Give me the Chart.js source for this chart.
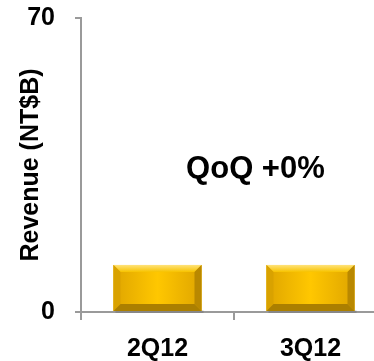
<!DOCTYPE html>
<html>
<head>
<meta charset="utf-8">
<script src="https://cdn.jsdelivr.net/npm/chart.js@4/dist/chart.umd.min.js"></script>
<style>
  html, body { margin: 0; padding: 0; background: #fff; overflow: hidden; }
  #wrap { width: 374px; height: 361px; overflow: hidden; }
</style>
</head>
<body>
<div id="wrap"><canvas id="rev" width="400" height="361"></canvas></div>
<script>
// Quarterly revenue, NT$ billions
const quarters = ['2Q12', '3Q12'];
const revenue = [11.2, 11.2];
const yTicks = [0, 70];
const growthNote = 'QoQ +0%';

const FONT = 'Arial, "Liberation Sans", Helvetica, sans-serif';
const AXIS = '#9a9a9a';

// golden bevelled look drawn over each bar
const bevelPlugin = {
    id: 'bevel',
    afterDatasetsDraw(chart) {
        const ctx = chart.ctx;
        chart.getDatasetMeta(0).data.forEach(bar => {
            const l = bar.x - bar.width / 2, r = bar.x + bar.width / 2;
            const t = bar.y, b = bar.base;
            const e = 7;
            ctx.save();
            // soft shadow under the bar
            ctx.fillStyle = 'rgba(0,0,0,0.12)';
            ctx.fillRect(l + 2, b - 1, r - l, 3);
            // body
            let g = ctx.createLinearGradient(l, 0, r, 0);
            g.addColorStop(0, '#dfa500');
            g.addColorStop(0.5, '#ffc700');
            g.addColorStop(1, '#dfa500');
            ctx.fillStyle = g;
            ctx.fillRect(l, t, r - l, b - t);
            // top bevel
            g = ctx.createLinearGradient(0, t, 0, t + e);
            g.addColorStop(0, '#ffe27a');
            g.addColorStop(1, '#f7c300');
            ctx.fillStyle = g;
            ctx.beginPath();
            ctx.moveTo(l, t); ctx.lineTo(r, t); ctx.lineTo(r - e, t + e); ctx.lineTo(l + e, t + e);
            ctx.closePath(); ctx.fill();
            // left bevel
            ctx.fillStyle = '#d9a200';
            ctx.beginPath();
            ctx.moveTo(l, t); ctx.lineTo(l + e, t + e); ctx.lineTo(l + e, b - e); ctx.lineTo(l, b);
            ctx.closePath(); ctx.fill();
            // right bevel
            ctx.fillStyle = '#b98800';
            ctx.beginPath();
            ctx.moveTo(r, t); ctx.lineTo(r - e, t + e); ctx.lineTo(r - e, b - e); ctx.lineTo(r, b);
            ctx.closePath(); ctx.fill();
            // bottom bevel
            ctx.fillStyle = '#ab7f00';
            ctx.beginPath();
            ctx.moveTo(l, b); ctx.lineTo(l + e, b - e); ctx.lineTo(r - e, b - e); ctx.lineTo(r, b);
            ctx.closePath(); ctx.fill();
            ctx.restore();
        });
    }
};

// growth note between the two bars
const notePlugin = {
    id: 'note',
    afterDraw(chart) {
        const ctx = chart.ctx;
        const x = chart.scales.x.getPixelForValue(0.64);
        const y = chart.scales.y.getPixelForValue(34);
        ctx.save();
        ctx.font = 'bold 31px ' + FONT;
        ctx.fillStyle = '#000';
        ctx.textAlign = 'center';
        ctx.textBaseline = 'middle';
        ctx.fillText(growthNote, x, y);
        ctx.restore();
    }
};

new Chart(document.getElementById('rev'), {
    type: 'bar',
    data: {
        labels: quarters,
        datasets: [{
            data: revenue,
            backgroundColor: '#f5c000',
            borderWidth: 0,
            barPercentage: 0.575,
            categoryPercentage: 1
        }]
    },
    options: {
        responsive: false,
        animation: false,
        layout: { padding: { top: 18, left: 0, right: 13, bottom: 0 } },
        plugins: { legend: { display: false }, tooltip: { enabled: false } },
        scales: {
            x: {
                offset: true,
                border: { display: true, color: AXIS, width: 2 },
                grid: { display: true, drawOnChartArea: false, color: AXIS, lineWidth: 2, tickLength: 8, offset: true },
                ticks: { color: '#000', font: { family: FONT, size: 25, weight: 'bold' }, padding: 14 },
                afterFit(s) { s.height = 49; s.paddingLeft = 0; s.paddingRight = 0; }
            },
            y: {
                min: yTicks[0],
                max: yTicks[1],
                afterBuildTicks(s) { s.ticks = yTicks.map(v => ({ value: v })); },
                border: { display: true, color: AXIS, width: 2 },
                grid: { display: true, drawOnChartArea: false, color: AXIS, lineWidth: 2, tickLength: 6 },
                ticks: { color: '#000', font: { family: FONT, size: 25, weight: 'bold' }, padding: 20 },
                title: {
                    display: true,
                    text: 'Revenue (NT$B)',
                    color: '#000',
                    font: { family: FONT, size: 25, weight: 'bold' },
                    padding: { top: 16, bottom: 0 }
                },
                afterFit(s) { s.width = 81; s.paddingTop = 0; s.paddingBottom = 0; }
            }
        }
    },
    plugins: [bevelPlugin, notePlugin]
});
</script>
</body>
</html>
